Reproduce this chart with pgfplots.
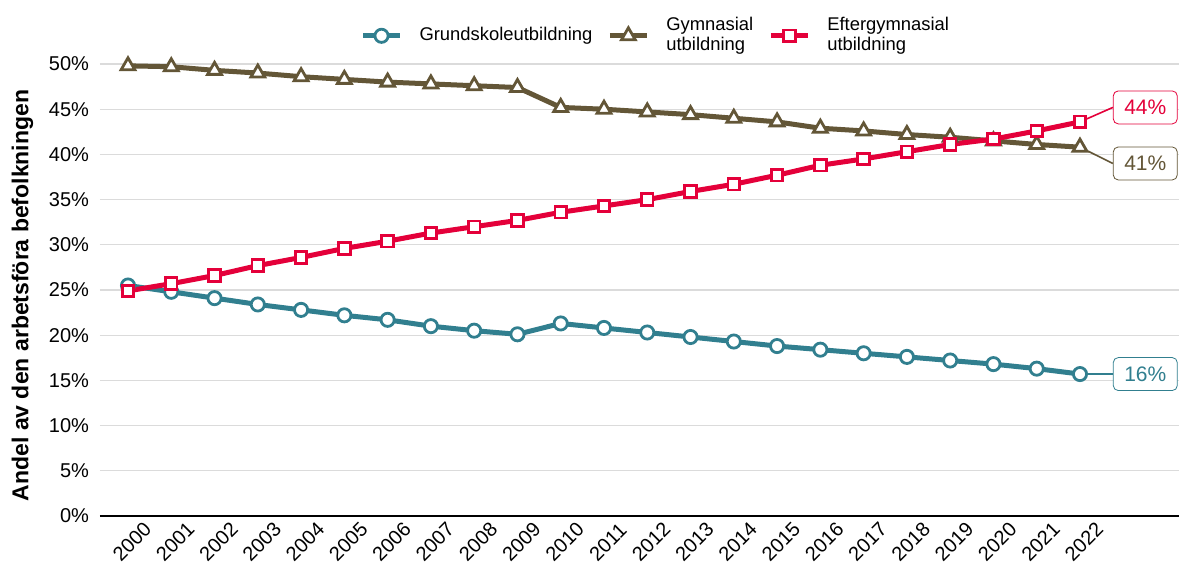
\documentclass[border=0pt]{standalone}
\usepackage{pgfplots}
\pgfplotsset{compat=1.18}
\usepackage{fontspec}
\setmainfont{Liberation Sans}
\definecolor{cteal}{HTML}{317F8F}
\definecolor{cbrown}{HTML}{635637}
\definecolor{cred}{HTML}{E4003A}
\begin{document}
\begin{tikzpicture}
\begin{axis}[
  scale only axis,
  width=539.5pt, height=230.5pt,
  xmin=1999.353, xmax=2024.288,
  ymin=0, ymax=51,
  axis x line*=bottom,
  axis y line*=left,
  y axis line style={draw=none},
  x axis line style={line width=1.2pt, black},
  major tick length=0pt,
  xtick={2000,...,2022},
  ytick={0,5,...,50},
  ymajorgrids,
  grid style={gray!28, line width=0.6pt},
  yticklabel={\pgfmathprintnumber{\tick}\%},
  /pgf/number format/.cd, 1000 sep={}, assume math mode=true,
  /pgfplots/.cd,
  ticklabel style={font=\fontsize{10}{11}\selectfont},
  xticklabel style={anchor=center, yshift=-13pt, xshift=2pt, rotate=45},
  yticklabel style={anchor=east, xshift=-2pt},
  ylabel={\bfseries Andel av den arbetsföra befolkningen},
  ylabel style={font=\fontsize{11.5}{12}\selectfont, yshift=1pt, xshift=-5pt},
  clip=false,
  legend columns=3,
  legend image code/.code={\draw[mark repeat=2,mark phase=2,#1] plot coordinates {(0pt,0pt)(9.25pt,0pt)(18.5pt,0pt)};},
  legend style={at={(0.516,0.984)}, anchor=south, draw=none, fill=none,
    font=\fontsize{9.2}{10}\selectfont, cells={align=left, anchor=west},
    /tikz/every odd column/.append style={column sep=6.5pt},
    /tikz/every even column/.append style={column sep=5.5pt}},
]
\addplot[cteal, line width=2.5pt, mark=*, mark size=3.3pt,
  mark options={fill=white, draw=cteal, line width=1.4pt}] coordinates {
(2000,25.5)(2001,24.8)(2002,24.1)(2003,23.4)(2004,22.8)(2005,22.2)(2006,21.7)(2007,21.0)(2008,20.5)(2009,20.1)(2010,21.3)(2011,20.8)(2012,20.3)(2013,19.8)(2014,19.3)(2015,18.8)(2016,18.4)(2017,18.0)(2018,17.6)(2019,17.2)(2020,16.8)(2021,16.3)(2022,15.7)};
\addlegendentry{Grundskoleutbildning}
\addplot[cbrown, line width=2.5pt, mark=triangle*, mark size=4pt,
  mark options={fill=white, draw=cbrown, line width=1.4pt}] coordinates {
(2000,49.8)(2001,49.7)(2002,49.3)(2003,49.0)(2004,48.6)(2005,48.3)(2006,48.0)(2007,47.8)(2008,47.6)(2009,47.4)(2010,45.2)(2011,45.0)(2012,44.7)(2013,44.4)(2014,44.0)(2015,43.6)(2016,42.9)(2017,42.6)(2018,42.2)(2019,41.9)(2020,41.5)(2021,41.1)(2022,40.8)};
\addlegendentry{Gymnasial\\utbildning}
\addplot[cred, line width=2.5pt, mark=square*, mark size=2.9pt,
  mark options={fill=white, draw=cred, line width=1.4pt}] coordinates {
(2000,24.9)(2001,25.7)(2002,26.6)(2003,27.7)(2004,28.6)(2005,29.6)(2006,30.4)(2007,31.3)(2008,32.0)(2009,32.7)(2010,33.6)(2011,34.3)(2012,35.0)(2013,35.9)(2014,36.7)(2015,37.7)(2016,38.8)(2017,39.5)(2018,40.3)(2019,41.1)(2020,41.7)(2021,42.6)(2022,43.6)};
\addlegendentry{Eftergymnasial\\utbildning}
% connectors
\addplot[cteal, line width=0.8pt, forget plot] coordinates {(2022,15.7)(2022.76,15.7)};
\addplot[cbrown, line width=0.8pt, forget plot] coordinates {(2022,40.8)(2022.76,39.0)};
\addplot[cred, line width=0.8pt, forget plot] coordinates {(2022,43.6)(2022.76,45.2)};
\node[draw=cteal, text=cteal, rounded corners=2.5pt, fill=white, anchor=west,
  font=\fontsize{10.5}{11}\selectfont, inner sep=2pt, minimum width=32pt, minimum height=16.5pt] at (axis cs:2022.76,15.7) {16\%};
\node[draw=cbrown, text=cbrown, rounded corners=2.5pt, fill=white, anchor=west,
  font=\fontsize{10.5}{11}\selectfont, inner sep=2pt, minimum width=32pt, minimum height=16.5pt] at (axis cs:2022.76,39.0) {41\%};
\node[draw=cred, text=cred, rounded corners=2.5pt, fill=white, anchor=west,
  font=\fontsize{10.5}{11}\selectfont, inner sep=2pt, minimum width=32pt, minimum height=16.5pt] at (axis cs:2022.76,45.2) {44\%};
\end{axis}
\pgfresetboundingbox
\path[use as bounding box] ([shift={(-50pt,-23.5pt)}]current axis.south west) rectangle ([shift={(0pt,27.5pt)}]current axis.north east);
\end{tikzpicture}
\end{document}
